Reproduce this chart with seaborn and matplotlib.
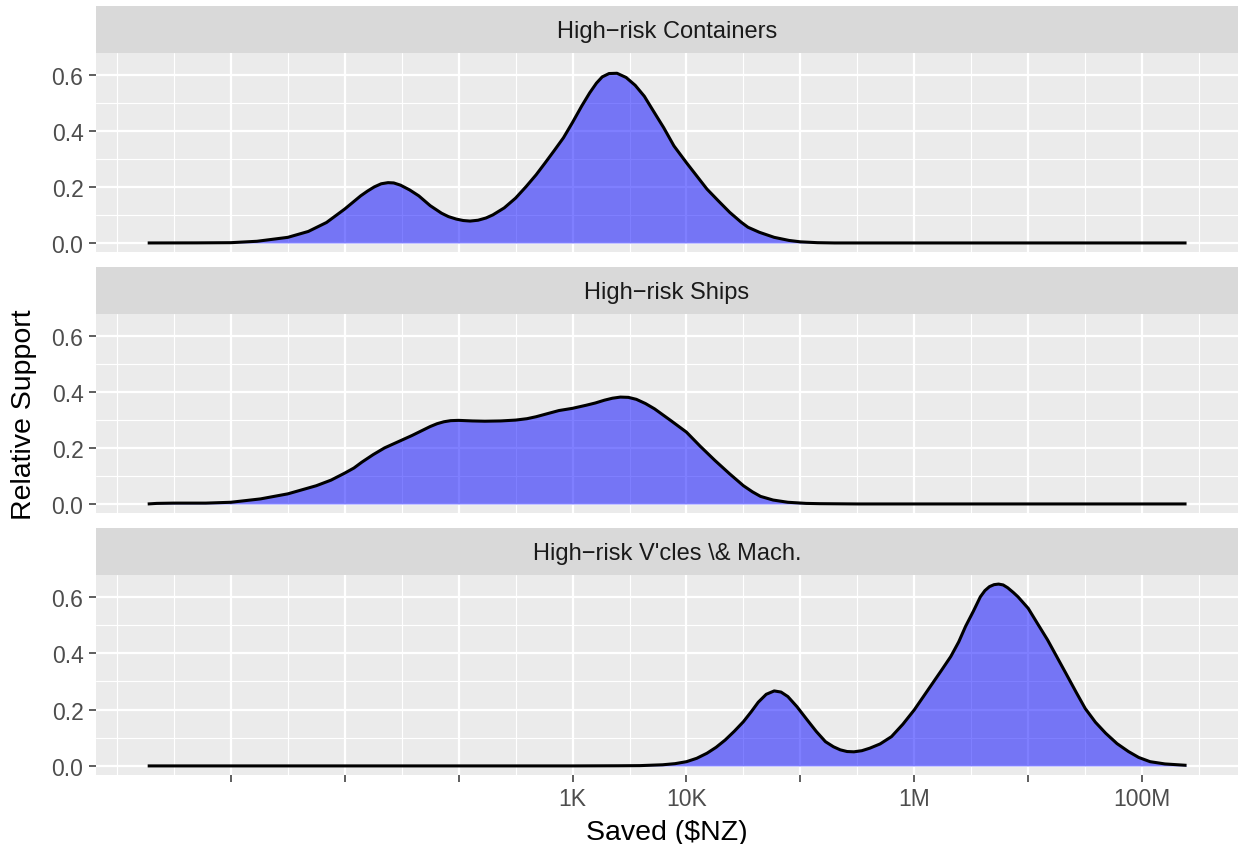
import numpy as np
import pandas as pd
import matplotlib
matplotlib.use("Agg")
import matplotlib.pyplot as plt
from matplotlib.ticker import FixedLocator, FixedFormatter, NullFormatter
import seaborn as sns

# ---- data -------------------------------------------------------------
facets = [
    "High\u2212risk Containers",
    "High\u2212risk Ships",
    "High\u2212risk V'cles \\& Mach.",
]

# log10 of dollars saved, and the relative support (density) at each point
containers_log10 = [-0.73, -0.3, 0.0, 0.23, 0.5, 0.68, 0.84, 1.0, 1.14, 1.20, 1.26,
                    1.32, 1.38, 1.43, 1.49, 1.57, 1.65, 1.75, 1.85, 1.91, 1.98, 2.04,
                    2.10, 2.17, 2.24, 2.30, 2.40, 2.50, 2.59, 2.68, 2.76, 2.84, 2.92,
                    3.00, 3.08, 3.15, 3.21, 3.26, 3.32, 3.39, 3.47, 3.55, 3.63, 3.71,
                    3.80, 3.89, 4.00, 4.09, 4.18, 4.28, 4.38, 4.48, 4.54, 4.64, 4.77,
                    4.90, 5.00, 5.15, 5.30, 8.39]
containers_support = [0.000, 0.0003, 0.001, 0.006, 0.020, 0.041, 0.073, 0.121, 0.168,
                      0.185, 0.200, 0.211, 0.215, 0.214, 0.206, 0.189, 0.168, 0.133,
                      0.106, 0.094, 0.085, 0.080, 0.078, 0.081, 0.089, 0.100, 0.125,
                      0.160, 0.200, 0.243, 0.286, 0.330, 0.375, 0.430, 0.488, 0.535,
                      0.570, 0.592, 0.604, 0.605, 0.590, 0.562, 0.523, 0.470, 0.411,
                      0.346, 0.286, 0.239, 0.192, 0.150, 0.109, 0.074, 0.056, 0.038,
                      0.020, 0.009, 0.004, 0.001, 0.000, 0.000]

ships_log10 = [-0.73, -0.65, -0.5, -0.22, 0.0, 0.26, 0.5, 0.75, 0.88, 1.0, 1.08,
               1.15, 1.25, 1.35, 1.47, 1.59, 1.68, 1.75, 1.81, 1.87, 1.93, 2.0,
               2.12, 2.23, 2.37, 2.5, 2.6, 2.68, 2.78, 2.88, 3.0, 3.12, 3.2, 3.28,
               3.35, 3.42, 3.49, 3.56, 3.64, 3.72, 3.86, 4.0, 4.12, 4.25, 4.38,
               4.5, 4.58, 4.65, 4.76, 4.89, 5.05, 5.17, 5.5, 8.39]
ships_support = [0.000, 0.002, 0.003, 0.003, 0.006, 0.018, 0.036, 0.065, 0.085,
                 0.110, 0.128, 0.149, 0.176, 0.200, 0.222, 0.244, 0.262, 0.276,
                 0.286, 0.293, 0.297, 0.298, 0.296, 0.295, 0.296, 0.299, 0.304,
                 0.311, 0.322, 0.333, 0.341, 0.352, 0.360, 0.370, 0.377, 0.381,
                 0.380, 0.373, 0.358, 0.339, 0.298, 0.256, 0.206, 0.155, 0.107,
                 0.065, 0.043, 0.027, 0.014, 0.006, 0.002, 0.001, 0.000, 0.000]

vehicles_log10 = [-0.73, 3.0, 3.4, 3.59, 3.79, 3.9, 4.0, 4.09, 4.18, 4.26, 4.34,
                  4.42, 4.5, 4.57, 4.63, 4.70, 4.77, 4.83, 4.89, 4.97, 5.06, 5.14,
                  5.22, 5.29, 5.35, 5.41, 5.47, 5.54, 5.61, 5.70, 5.80, 5.90, 6.0,
                  6.08, 6.16, 6.24, 6.32, 6.39, 6.45, 6.52, 6.58, 6.62, 6.66, 6.70,
                  6.74, 6.78, 6.82, 6.87, 6.91, 7.0, 7.08, 7.17, 7.25, 7.33, 7.42,
                  7.5, 7.59, 7.68, 7.78, 7.88, 7.97, 8.07, 8.2, 8.39]
vehicles_support = [0.000, 0.000, 0.0005, 0.001, 0.004, 0.008, 0.015, 0.027, 0.045,
                    0.066, 0.092, 0.123, 0.157, 0.193, 0.226, 0.254, 0.266, 0.262,
                    0.246, 0.210, 0.163, 0.122, 0.086, 0.068, 0.057, 0.051, 0.050,
                    0.054, 0.063, 0.078, 0.104, 0.148, 0.199, 0.246, 0.293, 0.340,
                    0.388, 0.440, 0.495, 0.550, 0.600, 0.622, 0.636, 0.643, 0.645,
                    0.642, 0.632, 0.615, 0.600, 0.559, 0.506, 0.447, 0.388, 0.329,
                    0.262, 0.204, 0.155, 0.116, 0.079, 0.051, 0.030, 0.015, 0.007,
                    0.002]

x_break_log10 = [0, 1, 2, 3, 4, 5, 6, 7, 8]
x_break_labels = ["", "", "", "1K", "10K", "", "1M", "", "100M"]
x_minor_log10 = [-1, -0.5, 0.5, 1.5, 2.5, 3.5, 4.5, 5.5, 6.5, 7.5, 8.5]
y_breaks = [0.0, 0.2, 0.4, 0.6]
y_break_labels = ["0.0", "0.2", "0.4", "0.6"]
y_minor = [0.1, 0.3, 0.5]

frames = []
for name, lx, sup in [(facets[0], containers_log10, containers_support),
                      (facets[1], ships_log10, ships_support),
                      (facets[2], vehicles_log10, vehicles_support)]:
    frames.append(pd.DataFrame({"facet": name,
                                "saved": 10.0 ** np.asarray(lx),
                                "support": sup}))
df = pd.concat(frames, ignore_index=True)

# ---- style ------------------------------------------------------------
sns.set_theme(style="darkgrid", rc={
    "axes.facecolor": "#EBEBEB",
    "grid.color": "white",
    "axes.edgecolor": "none",
})
plt.rcParams["font.family"] = ["Liberation Sans", "DejaVu Sans"]

W, H = 1239, 845
fig = plt.figure(figsize=(W / 100, H / 100), dpi=100)


def box(left, top, right, bottom):
    return [left / W, 1 - bottom / H, (right - left) / W, (bottom - top) / H]


panels = [(96, 54, 1238, 253), (96, 315, 1238, 514), (96, 576, 1238, 776)]
strip_h = 47
x_lo, x_hi = 10 ** -1.1837, 10 ** 8.8417
y_lo, y_hi = -0.03225, 0.67725

for i, (name, (l, t, r, b)) in enumerate(zip(facets, panels)):
    ax = fig.add_axes(box(l, t, r, b))
    sub = df[df["facet"] == name]
    ax.fill_between(sub["saved"], 0, sub["support"], color="blue", alpha=0.5,
                    lw=0, zorder=2)
    sns.lineplot(data=sub, x="saved", y="support", ax=ax, color="black",
                 lw=2.2, estimator=None, sort=False, zorder=3,
                 solid_joinstyle="round", solid_capstyle="butt")
    ax.set_xscale("log")
    ax.set_xlim(x_lo, x_hi)
    ax.set_ylim(y_lo, y_hi)

    ax.xaxis.set_major_locator(FixedLocator([10.0 ** v for v in x_break_log10]))
    ax.xaxis.set_minor_locator(FixedLocator([10.0 ** v for v in x_minor_log10]))
    ax.xaxis.set_minor_formatter(NullFormatter())
    ax.yaxis.set_major_locator(FixedLocator(y_breaks))
    ax.yaxis.set_minor_locator(FixedLocator(y_minor))
    ax.yaxis.set_major_formatter(FixedFormatter(y_break_labels))

    ax.grid(which="major", color="white", lw=1.6, zorder=0)
    ax.grid(which="minor", color="white", lw=0.8, zorder=0)
    ax.set_axisbelow(True)
    for s in ax.spines.values():
        s.set_visible(False)

    ax.tick_params(axis="y", which="major", left=True, length=5, width=1.1,
                   color="#333333", labelsize=16.5, labelcolor="#4D4D4D", pad=4)
    ax.tick_params(axis="both", which="minor", length=0)
    if i == len(facets) - 1:
        ax.xaxis.set_major_formatter(FixedFormatter(x_break_labels))
        ax.tick_params(axis="x", which="major", bottom=True, length=5, width=1.1,
                       color="#333333", labelsize=16.5, labelcolor="#4D4D4D", pad=4)
    else:
        ax.xaxis.set_major_formatter(NullFormatter())
        ax.tick_params(axis="x", which="major", bottom=False, length=0)
    ax.set_xlabel("")
    ax.set_ylabel("")

    # facet strip
    sax = fig.add_axes(box(l, t - strip_h, r, t))
    sax.set_facecolor("#D9D9D9")
    sax.set_xticks([])
    sax.set_yticks([])
    sax.grid(False)
    for s in sax.spines.values():
        s.set_visible(False)
    sax.text(0.5, 0.33, name, ha="center", va="baseline", fontsize=17,
             color="#1A1A1A", transform=sax.transAxes)

fig.text(667 / W, 1 - 840 / H, "Saved ($NZ)", ha="center", va="baseline",
         fontsize=20.5, color="black")
fig.text(24 / W, 1 - 415 / H, "Relative Support", ha="center", va="center",
         rotation=90, fontsize=20.5, color="black")

fig.savefig("out.png", dpi=100)
